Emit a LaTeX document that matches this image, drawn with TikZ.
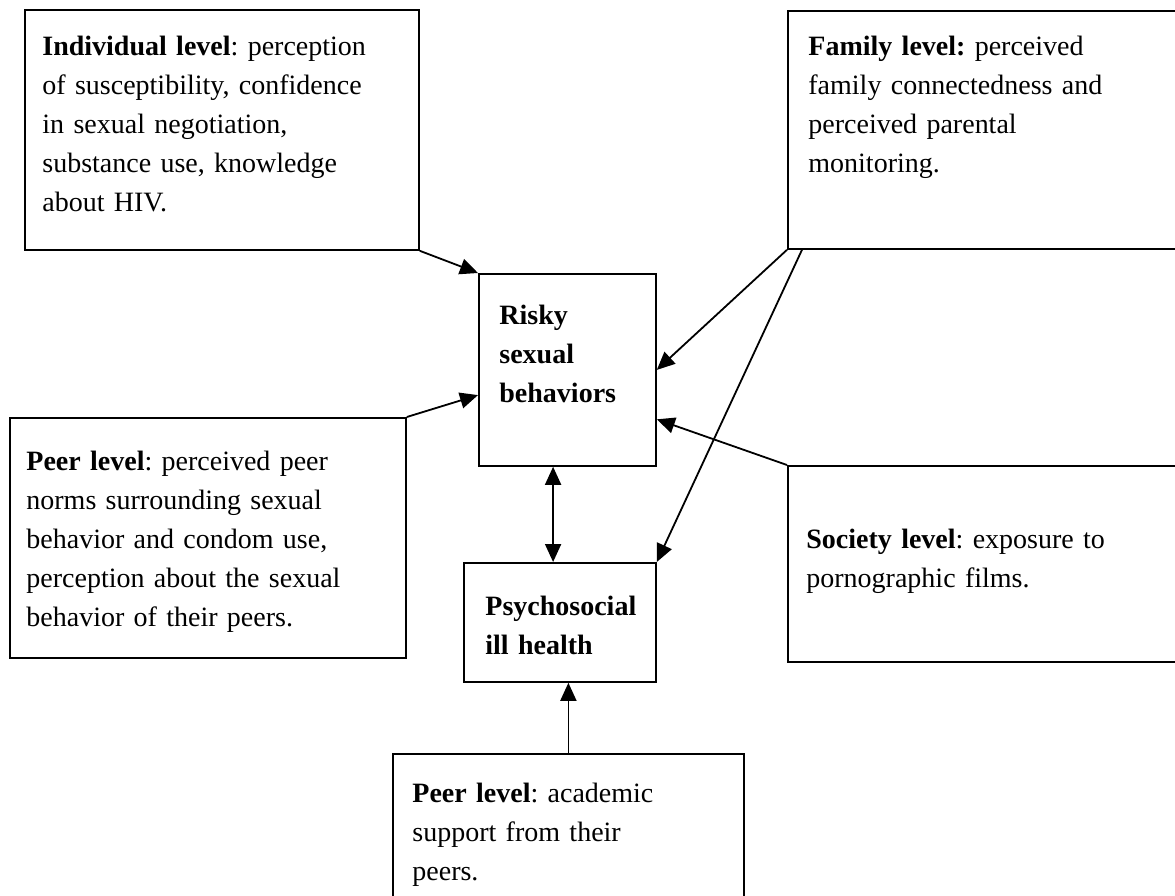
\documentclass[tikz,border=0pt]{standalone}
\usepackage{fontspec}
\setmainfont{Liberation Serif}
\usetikzlibrary{arrows.meta,calc}
\frenchspacing
\begin{document}
\begin{tikzpicture}[x=0.5pt,y=-0.5pt,
  box/.style={draw, line width=0.9pt, anchor=north west, inner sep=0pt},
  txt/.style={anchor=base west, inner sep=0pt, text width=230pt, align=left, font=\frenchspacing\fontsize{14}{19.5}\selectfont},
  arr/.style={line width=0.9pt, -{Triangle[length=9pt,width=8pt]}},
  darr/.style={line width=0.9pt, {Triangle[length=9pt,width=8pt]}-{Triangle[length=9pt,width=8pt]}},
]
\path[use as bounding box, fill=white] (0,0) rectangle (1175,896);

% boxes
\node[box, minimum width=197pt, minimum height=120pt] (ind) at (24,9) {};
\node[box, minimum width=200pt, minimum height=119pt] (fam) at (787,10) {};
\node[box, minimum width=88.5pt, minimum height=96pt] (risky) at (478,273) {};
\node[box, minimum width=198pt, minimum height=120pt] (peerA) at (9,417) {};
\node[box, minimum width=200pt, minimum height=98pt] (soc) at (787,465) {};
\node[box, minimum width=96pt, minimum height=59.5pt] (psy) at (463,562) {};
\node[box, minimum width=175.5pt, minimum height=90pt] (peerB) at (392,753) {};

% texts
\node[txt] (tind) at (42,55) {\textbf{Individual level}: perception\\of susceptibility, confidence\\in sexual negotiation,\\substance use, knowledge\\about HIV.};
\node[txt] (tfam) at (808,55) {\textbf{Family level:} perceived\\family connectedness and\\perceived parental\\monitoring.};
\node[txt] (trisky) at (499,324) {\bfseries Risky\\sexual\\behaviors};
\node[txt] (tpeerA) at (26,470) {\textbf{Peer level}: perceived peer\\norms surrounding sexual\\behavior and condom use,\\perception about the sexual\\behavior of their peers.};
\node[txt] (tsoc) at (806,548) {\textbf{Society level}: exposure to\\pornographic films.};
\node[txt] (tpsy) at (485,615) {\bfseries Psychosocial\\ill health};
\node[txt] (tpeerB) at (412,802) {\textbf{Peer level}: academic\\support from their\\peers.};

% connectors
\draw[arr] (ind.south east) -- (risky.north west);
\draw[arr] (peerA.north east) -- ($(risky.north west)!0.63!(risky.south west)$);
\draw[arr] (fam.south west) -- (risky.east);
\draw[arr] ([xshift=7.5pt]fam.south west) -- (psy.north east);
\draw[arr] (soc.north west) -- ($(risky.north east)!0.755!(risky.south east)$);
\coordinate (rb) at ($(risky.south west)!0.42!(risky.south east)$);
\draw[darr] (rb) -- (rb |- psy.north);
\draw[arr] (peerB.north) -- (peerB.north |- psy.south);
\end{tikzpicture}
\end{document}
